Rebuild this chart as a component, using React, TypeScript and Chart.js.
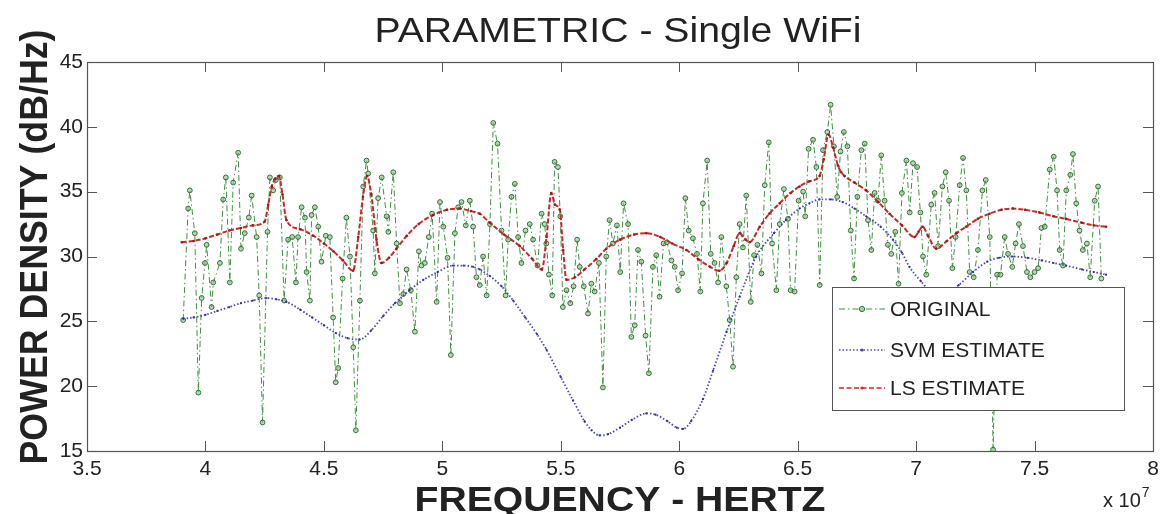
import React, { useEffect, useRef } from "react";
import { Chart, registerables } from "chart.js";

Chart.register(...registerables);

const W = 1165;
const H = 514;
const FONT = '"Liberation Sans", Arial, Helvetica, sans-serif';

const TITLE = "PARAMETRIC - Single WiFi";
const X_TITLE = "FREQUENCY - HERTZ";
const Y_TITLE = "POWER DENSITY (dB/Hz)";
const X_EXPONENT = "7";
const X_MULT = "x 10";
const X_TICKS = [3.5, 4, 4.5, 5, 5.5, 6, 6.5, 7, 7.5, 8];
const Y_TICKS = [15, 20, 25, 30, 35, 40, 45];
const LEGEND_LABELS = ["ORIGINAL", "SVM ESTIMATE", "LS ESTIMATE"];

// Frequencies in units of 1e7 Hz, power density in dB/Hz
const ORIG_FREQ = [
  3.906, 3.927, 3.934, 3.955, 3.97, 3.984, 3.998, 4.005, 4.026, 4.033, 4.061, 4.075, 4.086, 4.103, 4.117, 4.138,
  4.15, 4.166, 4.183, 4.195, 4.216, 4.227, 4.241, 4.262, 4.272, 4.286, 4.297, 4.314, 4.332, 4.349, 4.366, 4.382,
  4.391, 4.406, 4.42, 4.427, 4.441, 4.448, 4.462, 4.476, 4.49, 4.508, 4.525, 4.539, 4.55, 4.56, 4.579, 4.595,
  4.61, 4.624, 4.635,
  4.652, 4.666, 4.68, 4.687, 4.708, 4.715, 4.729, 4.744, 4.765, 4.772, 4.793, 4.807, 4.821, 4.835, 4.849, 4.867,
  4.884, 4.901, 4.912, 4.926, 4.943, 4.957, 4.976, 4.99, 5.004, 5.022, 5.036, 5.053, 5.067, 5.081, 5.099, 5.116,
  5.13, 5.144, 5.158, 5.172, 5.187, 5.201, 5.215, 5.233, 5.25, 5.267, 5.278, 5.292, 5.306, 5.32, 5.334, 5.351,
  5.369, 5.383, 5.402, 5.419,
  5.432, 5.439, 5.45, 5.464, 5.474, 5.488, 5.498, 5.509, 5.524, 5.54, 5.554, 5.569, 5.58, 5.597, 5.615, 5.629,
  5.643, 5.661, 5.678, 5.692, 5.706, 5.72, 5.737, 5.751, 5.765, 5.784, 5.798, 5.812, 5.826, 5.84, 5.858, 5.872,
  5.889, 5.903, 5.917, 5.934, 5.948, 5.967, 5.981, 5.995, 6.012, 6.026, 6.04, 6.058, 6.075, 6.089, 6.1, 6.118,
  6.133, 6.149, 6.164, 6.178,
  6.199, 6.213, 6.227, 6.241, 6.255, 6.269, 6.283, 6.302, 6.316, 6.33, 6.347, 6.361, 6.378, 6.392, 6.41, 6.424,
  6.442, 6.459, 6.47, 6.487, 6.504, 6.523, 6.532, 6.546, 6.565, 6.579, 6.593, 6.607, 6.625, 6.639, 6.653, 6.667,
  6.681, 6.695, 6.71, 6.724, 6.738, 6.752, 6.769, 6.783, 6.797, 6.811, 6.825, 6.839, 6.853, 6.867, 6.881, 6.895,
  6.912, 6.926, 6.94, 6.959, 6.973, 6.987,
  7.004, 7.018, 7.029, 7.043, 7.064, 7.078, 7.093, 7.111, 7.125, 7.139, 7.153, 7.167, 7.184, 7.198, 7.212, 7.226,
  7.243, 7.261, 7.28, 7.294, 7.311, 7.325, 7.342, 7.356, 7.374, 7.388, 7.406, 7.42, 7.434, 7.451, 7.468, 7.482,
  7.5, 7.515, 7.529, 7.543, 7.564, 7.581, 7.595, 7.606, 7.62, 7.634, 7.651, 7.662, 7.676, 7.69, 7.704, 7.721,
  7.735, 7.754, 7.768, 7.782,
];
const ORIG_PSD = [
  25.1, 33.7, 35.1, 31.8, 19.5, 26.8, 29.5, 30.9, 26.1, 28.0, 29.5, 34.4, 36.1, 28.0, 35.7, 38.0,
  30.6, 31.8, 33.0, 34.7, 31.5, 27.0, 17.2, 31.9, 36.1, 35.1, 35.9, 36.1, 26.6, 31.3, 31.5, 28.0,
  31.5, 33.8, 33.0, 28.8, 26.6, 33.2, 33.8, 32.3, 29.6, 31.6, 31.5, 25.3, 20.3, 21.4, 28.3, 33.0,
  30.0, 23.0, 16.6,
  26.6, 35.4, 37.4, 36.4, 32.0, 28.7, 34.5, 36.1, 33.1, 31.9, 36.5, 31.0, 26.4, 27.1, 29.0, 27.4,
  24.2, 30.4, 29.3, 29.5, 31.5, 33.3, 26.5, 34.2, 32.3, 29.9, 22.4, 31.8, 33.8, 34.2, 32.4, 34.3,
  32.3, 28.4, 27.8, 30.0, 27.0, 32.5, 40.3, 38.7, 32.0, 27.0, 31.3, 34.6, 35.6, 31.5, 29.5, 32.0,
  32.5, 31.3, 29.3, 33.3,
  32.5, 31.0, 28.6, 27.0, 37.3, 36.9, 33.1, 26.1, 27.4, 26.4, 27.7, 31.3, 29.2, 27.7, 25.6, 27.9,
  27.3, 29.5, 19.9, 30.0, 32.8, 31.0, 32.4, 28.8, 34.1, 32.5, 23.8, 24.7, 30.5, 29.6, 23.9, 21.0,
  29.2, 30.1, 26.9, 31.0, 31.1, 29.7, 29.2, 27.4, 28.7, 34.5, 32.0, 31.4, 30.2, 27.3, 34.1, 37.4,
  30.2, 29.5, 28.0, 31.5,
  27.7, 25.1, 21.5, 28.4, 32.5, 30.7, 34.7, 26.5, 30.1, 30.9, 28.7, 35.5, 38.8, 31.0, 27.4, 32.5,
  35.2, 32.9, 27.4, 27.3, 34.3, 35.0, 33.1, 38.3, 39.0, 36.9, 27.8, 38.2, 39.6, 41.7, 38.5, 34.6,
  38.1, 39.6, 38.5, 32.0, 28.3, 34.6, 38.2, 38.7, 32.8, 30.5, 34.9, 34.3, 37.8, 34.3, 30.9, 30.2,
  31.9, 27.9, 34.9, 37.4, 33.4, 37.2,
  36.9, 33.4, 30.0, 28.6, 34.0, 34.9, 30.8, 35.4, 36.5, 34.3, 29.1, 31.5, 35.5, 37.6, 35.1, 28.8,
  28.4, 30.5, 35.1, 35.9, 31.5, 15.1, 28.6, 28.6, 31.5, 30.2, 29.2, 31.0, 32.5, 30.8, 28.8, 28.4,
  28.8, 29.1, 32.2, 32.3, 36.7, 37.7, 35.1, 30.5, 29.3, 35.1, 36.3, 37.9, 34.1, 32.0, 30.5, 31.0,
  28.4, 34.3, 35.4, 28.3,
];

const SVM_FREQ = [
  3.906, 3.95, 4.0, 4.05, 4.1, 4.15, 4.2, 4.258, 4.3, 4.342, 4.4, 4.45, 4.5, 4.55, 4.6, 4.651,
  4.7, 4.75, 4.8, 4.862, 4.92, 4.98, 5.045, 5.09, 5.13, 5.158, 5.2, 5.25, 5.299, 5.35, 5.4, 5.44,
  5.5, 5.552, 5.6, 5.63, 5.664, 5.7, 5.75, 5.8, 5.861, 5.9, 5.95, 5.99, 6.016, 6.05, 6.1, 6.143,
  6.2, 6.255, 6.325, 6.4, 6.45, 6.508, 6.55, 6.592, 6.64, 6.69, 6.74, 6.789, 6.85, 6.902, 6.94, 6.972,
  7.02, 7.07, 7.12, 7.18, 7.24, 7.3, 7.35, 7.408, 7.47, 7.53, 7.58, 7.633, 7.7, 7.75, 7.802,
];
const SVM_PSD = [
  25.2, 25.3, 25.5, 25.8, 26.1, 26.4, 26.6, 26.8, 26.7, 26.5, 25.9, 25.3, 24.7, 24.1, 23.7, 23.6,
  24.3, 25.4, 26.4, 27.4, 28.2, 28.8, 29.3, 29.3, 29.2, 29.0, 28.5, 27.7, 26.6, 25.3, 24.0, 22.8,
  20.7, 18.9, 17.3, 16.6, 16.2, 16.3, 16.8, 17.4, 17.9, 17.8, 17.3, 16.8, 16.7, 17.3, 19.0, 21.2,
  24.2, 26.9, 30.0, 31.8, 32.8, 33.7, 34.1, 34.4, 34.4, 34.2, 33.7, 33.1, 32.3, 31.3, 30.3, 29.2,
  28.1, 27.2, 27.1, 27.8, 28.8, 29.6, 29.9, 30.0, 29.9, 29.7, 29.5, 29.3, 29.0, 28.8, 28.6,
];

const LS_FREQ = [
  3.9, 3.95, 4.0, 4.05, 4.1, 4.15, 4.2, 4.25, 4.265, 4.28, 4.295, 4.31, 4.325, 4.342, 4.4, 4.455,
  4.5, 4.54, 4.58, 4.623, 4.645, 4.665, 4.682, 4.7, 4.722, 4.743, 4.775, 4.806, 4.85, 4.9, 4.961, 5.02,
  5.073, 5.12, 5.158, 5.2, 5.26, 5.327, 5.38, 5.42, 5.44, 5.46, 5.475, 5.496, 5.51, 5.524, 5.56, 5.6,
  5.65, 5.692, 5.75, 5.81, 5.861, 5.92, 5.97, 6.03, 6.08, 6.13, 6.17, 6.2, 6.23, 6.255, 6.28, 6.297,
  6.34, 6.38, 6.424, 6.47, 6.508, 6.55, 6.592, 6.61, 6.63, 6.65, 6.67, 6.684, 6.698, 6.74, 6.789, 6.84,
  6.888, 6.94, 6.993, 7.01, 7.028, 7.05, 7.085, 7.13, 7.17, 7.211, 7.26, 7.31, 7.36, 7.408, 7.46, 7.52,
  7.58, 7.633, 7.7, 7.75, 7.802,
];
const LS_PSD = [
  31.1, 31.2, 31.4, 31.7, 32.0, 32.2, 32.4, 32.7, 34.0, 35.4, 36.0, 36.2, 34.8, 32.8, 32.1, 31.6,
  31.0, 30.4, 29.7, 28.9, 31.5, 34.6, 36.2, 34.8, 31.3, 29.5, 29.9, 30.6, 31.6, 32.5, 33.2, 33.6,
  33.7, 33.5, 33.3, 32.6, 31.7, 30.8, 29.8, 29.0, 31.5, 34.9, 34.0, 33.6, 30.5, 28.2, 28.4, 29.0,
  29.8, 30.6, 31.3, 31.7, 31.8, 31.5, 31.0, 30.5, 29.8, 29.2, 28.9, 29.5, 30.8, 31.8, 31.3, 31.1,
  32.3, 33.3, 34.1, 34.9, 35.4, 35.8, 36.2, 37.5, 39.4, 38.4, 37.0, 36.5, 36.2, 35.7, 35.1, 34.2,
  33.3, 32.4, 31.5, 31.9, 32.3, 31.6, 30.6, 31.2, 31.8, 32.3, 32.9, 33.3, 33.6, 33.7, 33.6, 33.4,
  33.1, 32.9, 32.6, 32.4, 32.3,
];

const GREEN = "#3f8f3f";
const BLUE = "#4a4aa8";
const RED = "#c42a2a";
const AXIS = "#555555";
const TEXT = "#222222";

const zip = (xs: number[], ys: number[]) => xs.map((x, i) => ({ x, y: ys[i] }));

function fitText(ctx: CanvasRenderingContext2D, text: string, x: number, y: number, width: number, font: string, rot = 0) {
  ctx.save();
  ctx.font = font;
  const w = ctx.measureText(text).width;
  ctx.translate(x, y);
  if (rot) ctx.rotate(rot);
  ctx.scale(width / w, 1);
  ctx.textAlign = "center";
  ctx.fillText(text, 0, 0);
  ctx.restore();
}

const SAMPLE_STYLES = [
  { color: GREEN, dash: [6, 3, 1.5, 3], width: 1, marker: "circle" },
  { color: BLUE, dash: [1.5, 2], width: 1.6, marker: "dot" },
  { color: RED, dash: [5, 2.5], width: 1.6, marker: "dot" },
];

const matlabPlugin = {
  id: "matlabDecor",
  afterDatasetsDraw(chart: any) {
    const { ctx, chartArea: ca } = chart;
    const bw = 292;
    const bh = 123;
    const bx = ca.right - 29 - bw;
    const by = ca.bottom - 41 - bh;
    ctx.save();
    ctx.fillStyle = "#ffffff";
    ctx.fillRect(bx, by, bw, bh);
    ctx.strokeStyle = AXIS;
    ctx.lineWidth = 1;
    ctx.strokeRect(bx + 0.5, by + 0.5, bw, bh);
    const rows = [22, 63, 101];
    LEGEND_LABELS.forEach((label, i) => {
      const s = SAMPLE_STYLES[i];
      const yy = by + rows[i];
      ctx.strokeStyle = s.color;
      ctx.lineWidth = s.width;
      ctx.setLineDash(s.dash);
      ctx.beginPath();
      ctx.moveTo(bx + 7, yy);
      ctx.lineTo(bx + 53, yy);
      ctx.stroke();
      ctx.setLineDash([]);
      ctx.beginPath();
      if (s.marker === "circle") {
        ctx.arc(bx + 30, yy, 2.6, 0, Math.PI * 2);
        ctx.fillStyle = "rgba(140,190,140,0.6)";
        ctx.fill();
        ctx.strokeStyle = "#2f6f2f";
        ctx.lineWidth = 1;
        ctx.stroke();
      } else {
        ctx.arc(bx + 30, yy, 1.6, 0, Math.PI * 2);
        ctx.fillStyle = s.color;
        ctx.fill();
      }
      ctx.fillStyle = TEXT;
      ctx.font = `21px ${FONT}`;
      ctx.textAlign = "left";
      ctx.textBaseline = "middle";
      ctx.fillText(label, bx + 58, yy + 1);
    });
    ctx.restore();
  },
  afterDraw(chart: any) {
    const { ctx, chartArea: ca, scales } = chart;
    const xs = scales.x;
    const ys = scales.y;
    ctx.save();
    // frame
    ctx.strokeStyle = AXIS;
    ctx.lineWidth = 1.2;
    ctx.setLineDash([]);
    ctx.strokeRect(ca.left + 0.5, ca.top + 0.5, ca.right - ca.left, ca.bottom - ca.top);
    // inward ticks on all four sides
    const tl = 10;
    ctx.lineWidth = 1;
    ctx.beginPath();
    X_TICKS.forEach((v) => {
      const px = Math.round(xs.getPixelForValue(v)) + 0.5;
      ctx.moveTo(px, ca.bottom);
      ctx.lineTo(px, ca.bottom - tl);
      ctx.moveTo(px, ca.top);
      ctx.lineTo(px, ca.top + tl);
    });
    Y_TICKS.forEach((v) => {
      const py = Math.round(ys.getPixelForValue(v)) + 0.5;
      ctx.moveTo(ca.left, py);
      ctx.lineTo(ca.left + tl, py);
      ctx.moveTo(ca.right, py);
      ctx.lineTo(ca.right - tl, py);
    });
    ctx.stroke();
    // texts
    ctx.fillStyle = TEXT;
    ctx.textBaseline = "alphabetic";
    const cx = (ca.left + ca.right) / 2;
    fitText(ctx, TITLE, cx - 2, 42, 487, `35px ${FONT}`);
    fitText(ctx, X_TITLE, cx, 511, 411, `bold 35px ${FONT}`);
    ctx.textBaseline = "middle";
    fitText(ctx, Y_TITLE, 37, 247, 435, `bold 38px ${FONT}`, -Math.PI / 2);
    // x 10^7 multiplier
    ctx.textBaseline = "alphabetic";
    ctx.textAlign = "left";
    ctx.font = `20px ${FONT}`;
    ctx.fillText(X_MULT, 1103, 507);
    const mw = ctx.measureText(X_MULT).width;
    ctx.font = `14px ${FONT}`;
    ctx.fillText(X_EXPONENT, 1103 + mw + 1, 497);
    ctx.restore();
  },
};

export default function App() {
  const ref = useRef<HTMLCanvasElement | null>(null);

  useEffect(() => {
    document.body.style.margin = "0";
    const canvas = ref.current;
    if (!canvas) return;
    const chart = new Chart(canvas, {
      type: "line",
      data: {
        datasets: [
          {
            label: LEGEND_LABELS[0],
            data: zip(ORIG_FREQ, ORIG_PSD),
            borderColor: GREEN,
            borderWidth: 1,
            borderDash: [6, 3, 1.5, 3],
            pointRadius: 2.4,
            pointBorderWidth: 1,
            pointBorderColor: "#2f6f2f",
            pointBackgroundColor: "rgba(140,190,140,0.6)",
            tension: 0,
            order: 3,
          },
          {
            label: LEGEND_LABELS[1],
            data: zip(SVM_FREQ, SVM_PSD),
            borderColor: BLUE,
            borderWidth: 1.8,
            borderDash: [1.5, 2],
            pointRadius: 1.1,
            pointBorderWidth: 0,
            pointBackgroundColor: "#33338a",
            cubicInterpolationMode: "monotone",
            order: 2,
          },
          {
            label: LEGEND_LABELS[2],
            data: zip(LS_FREQ, LS_PSD),
            borderColor: RED,
            borderWidth: 2,
            borderDash: [5, 2],
            pointRadius: 1.3,
            pointBorderWidth: 0,
            pointBackgroundColor: "#9a1a1a",
            cubicInterpolationMode: "monotone",
            order: 1,
          },
        ],
      },
      options: {
        responsive: false,
        animation: false,
        events: [],
        layout: { padding: { top: 62, right: 12, left: 0, bottom: 0 } },
        plugins: {
          legend: { display: false },
          title: { display: false },
          tooltip: { enabled: false },
        },
        scales: {
          x: {
            type: "linear",
            min: 3.5,
            max: 8,
            afterBuildTicks: (scale: any) => {
              scale.ticks = X_TICKS.map((v) => ({ value: v }));
            },
            afterFit: (scale: any) => {
              scale.height = 63;
            },
            grid: { display: false, drawTicks: false },
            border: { display: false },
            ticks: {
              padding: 6,
              color: TEXT,
              font: { family: FONT, size: 21 },
              maxRotation: 0,
              autoSkip: false,
              callback: (v: any) => String(Math.round(Number(v) * 10) / 10),
            },
          },
          y: {
            type: "linear",
            min: 15,
            max: 45,
            afterBuildTicks: (scale: any) => {
              scale.ticks = Y_TICKS.map((v) => ({ value: v }));
            },
            afterFit: (scale: any) => {
              scale.width = 87;
            },
            grid: { display: false, drawTicks: false },
            border: { display: false },
            ticks: {
              padding: 4,
              color: TEXT,
              font: { family: FONT, size: 21 },
              autoSkip: false,
              callback: (v: any) => String(v),
            },
          },
        },
      },
      plugins: [matlabPlugin],
    } as any);
    return () => chart.destroy();
  }, []);

  return (
    <div style={{ position: "absolute", left: 0, top: 0, width: W, height: H, background: "#fff" }}>
      <canvas ref={ref} width={W} height={H} style={{ display: "block" }} />
    </div>
  );
}
